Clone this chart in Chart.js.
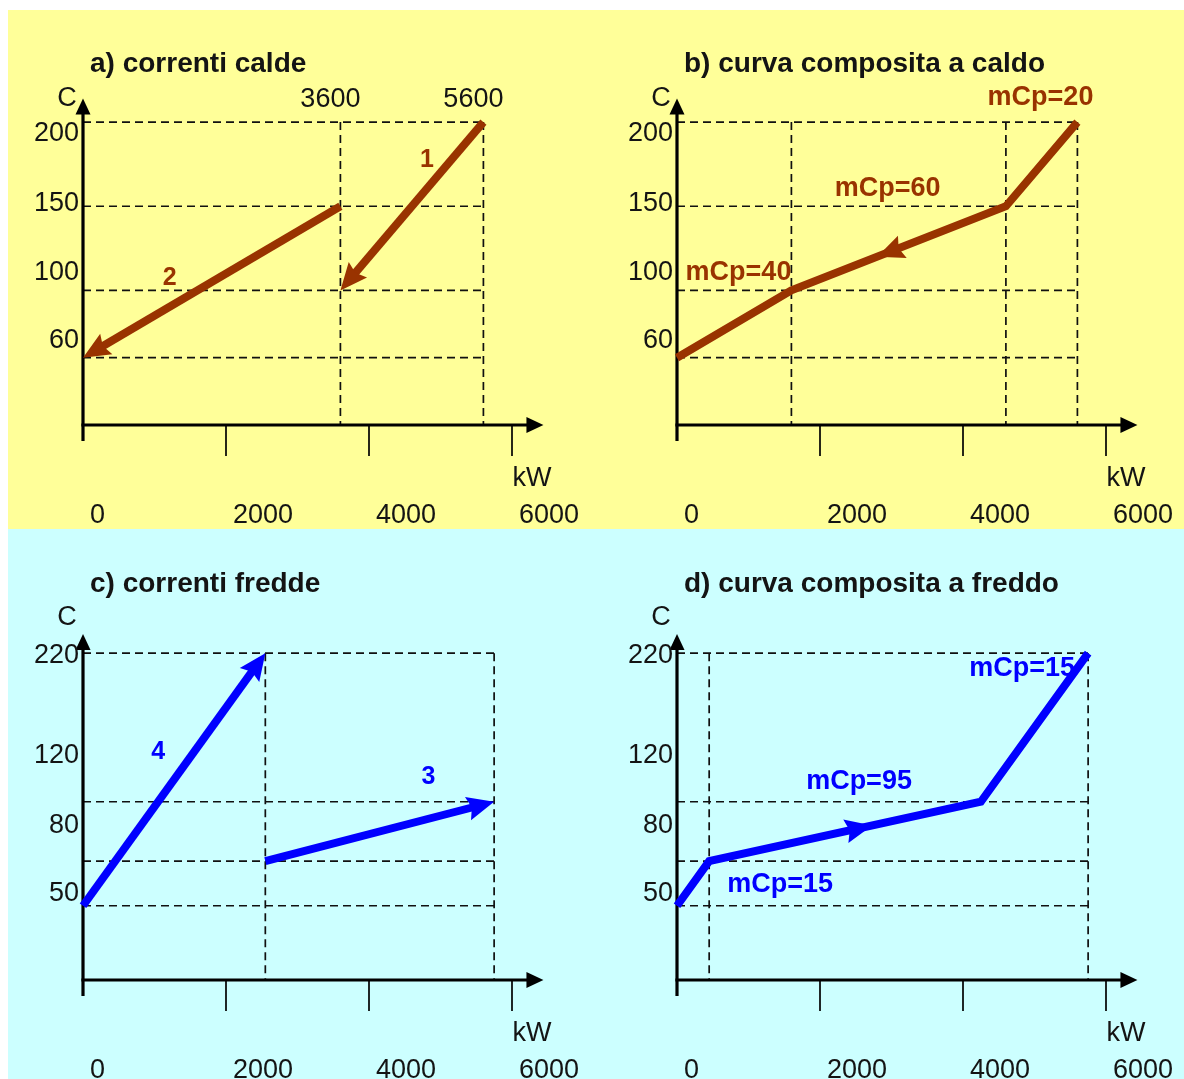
<!DOCTYPE html>
<html lang="it">
<head>
<meta charset="utf-8">
<title>Correnti e curve composite</title>
<script src="https://cdn.jsdelivr.net/npm/chart.js@4.4.1/dist/chart.umd.min.js"></script>
<style>
  html, body { margin:0; padding:0; width:1184px; height:1079px; overflow:hidden; background:#ffffff; }
  .band { position:absolute; left:8px; width:1176px; }
  #bandHot { top:10px; height:519px; background:#ffff99; }
  #bandCold { top:529px; height:550px; background:#ccffff; }
  canvas { position:absolute; }
</style>
</head>
<body>
<div class="band" id="bandHot"></div>
<div class="band" id="bandCold"></div>
<canvas id="pa" width="594" height="529" style="left:0;top:0"></canvas>
<canvas id="pb" width="590" height="529" style="left:594px;top:0"></canvas>
<canvas id="pc" width="594" height="550" style="left:0;top:529px"></canvas>
<canvas id="pd" width="590" height="550" style="left:594px;top:529px"></canvas>
<script>
const FAMILY = "'Liberation Sans', Arial, Helvetica, sans-serif";
const HOT = '#993300';
const COLD = '#0000ff';
const INK = '#141414';

// heat load axis (kW) and temperature axis (C) labels
const kwTicks = [0, 2000, 4000, 6000];
const hotTempTicks = [200, 150, 100, 60];
const coldTempTicks = [220, 120, 80, 50];

// hot streams, listed in flow direction: heat load (kW) and temperature (C)
const stream1Kw = [5600, 3600];
const stream1T = [200, 100];
const stream2Kw = [3600, 0];
const stream2T = [150, 60];

// cold streams
const stream3Kw = [2550, 5750];
const stream3T = [80, 120];
const stream4Kw = [0, 2550];
const stream4T = [50, 220];

// composite curves, in flow direction
const hotCompKw = [5600, 4600, 1600, 0];
const hotCompT = [200, 150, 100, 60];
const coldCompKw = [0, 450, 4250, 5750];
const coldCompT = [50, 80, 120, 220];

// heat capacity flow rate of each composite segment (flow order)
const hotMcp = [20, 60, 40];
const coldMcp = [15, 95, 15];

// heat loads marked by vertical guides
const hotStreamKw = [3600, 5600];
const hotCompBreaksKw = [1600, 4600, 5600];
const coldStreamKw = [2550, 5750];
const coldCompBreaksKw = [450, 5750];

const toPoints = (kw, t) => kw.map((x, i) => ({ x, y: t[i] }));
const font = (size, bold) => (bold ? 'bold ' : '') + size + 'px ' + FAMILY;

const hotPad = { left: 83, top: 63.2, bottom: 104 };
const coldPad = { left: 83, top: 94.5, bottom: 99 };

const panels = [
  {
    canvas: 'pa', color: HOT, title: 'a) correnti calde', titleY: 64,
    pad: Object.assign({ right: 46.25 }, hotPad), yRange: [20, 235], yTip: 214, cOffset: [-16, 0],
    temps: hotTempTicks, tempNudge: [11, -3, -18, -17],
    guideKw: hotStreamKw, guideTopT: 200, guideRightKw: 5600, topKwLabels: hotStreamKw,
    curves: [
      { kw: stream1Kw, t: stream1T, endArrow: true,
        labels: [{ text: '1', seg: 0, f: 0.5, dx: 15, dy: -46, size: 25, align: 'center' }] },
      { kw: stream2Kw, t: stream2T, endArrow: true,
        labels: [{ text: '2', seg: 0, f: 0.5, dx: -42, dy: -4, size: 25, align: 'center' }] }
    ]
  },
  {
    canvas: 'pb', color: HOT, title: 'b) curva composita a caldo', titleY: 64,
    pad: Object.assign({ right: 42.25 }, hotPad), yRange: [20, 235], yTip: 214, cOffset: [-16, 0],
    temps: hotTempTicks, tempNudge: [11, -3, -18, -17],
    guideKw: hotCompBreaksKw, guideTopT: 200, guideRightKw: 5600, topKwLabels: [],
    curves: [
      { kw: hotCompKw, t: hotCompT, midArrow: { seg: 1, f: 0.6 },
        labels: [
          { text: 'mCp=' + hotMcp[0], seg: 0, f: 0, dx: 16, dy: -25, size: 27, align: 'right' },
          { text: 'mCp=' + hotMcp[1], seg: 1, f: 0.5, dx: -11, dy: -60, size: 27, align: 'center' },
          { text: 'mCp=' + hotMcp[2], seg: 2, f: 0, dx: 0, dy: -18, size: 27, align: 'right' }
        ] }
    ]
  },
  {
    canvas: 'pc', color: COLD, title: 'c) correnti fredde', titleY: 55,
    pad: Object.assign({ right: 46.25 }, coldPad), yRange: [0, 240], yTip: 233, cOffset: [-16, -16],
    temps: coldTempTicks, tempNudge: [2, -46, -36, -12],
    guideKw: coldStreamKw, guideTopT: 220, guideRightKw: 5750, topKwLabels: [],
    curves: [
      { kw: stream4Kw, t: stream4T, endArrow: true,
        labels: [{ text: '4', seg: 0, f: 0.5, dx: -16, dy: -27, size: 25, align: 'center' }] },
      { kw: stream3Kw, t: stream3T, endArrow: true,
        labels: [{ text: '3', seg: 0, f: 0.7, dx: 3, dy: -42, size: 25, align: 'center' }] }
    ]
  },
  {
    canvas: 'pd', color: COLD, title: 'd) curva composita a freddo', titleY: 55,
    pad: Object.assign({ right: 42.25 }, coldPad), yRange: [0, 240], yTip: 233, cOffset: [-16, -16],
    temps: coldTempTicks, tempNudge: [2, -46, -36, -12],
    guideKw: coldCompBreaksKw, guideTopT: 220, guideRightKw: 5750, topKwLabels: [],
    curves: [
      { kw: coldCompKw, t: coldCompT, midArrow: { seg: 1, f: 0.6 },
        labels: [
          { text: 'mCp=' + coldMcp[0], seg: 0, f: 1, dx: 18, dy: 23, size: 27, align: 'left' },
          { text: 'mCp=' + coldMcp[1], seg: 1, f: 0.5, dx: 14, dy: -50, size: 27, align: 'center' },
          { text: 'mCp=' + coldMcp[2], seg: 2, f: 1, dx: -13, dy: 15, size: 27, align: 'right' }
        ] }
    ]
  }
];

// arrowhead geometry pointing from `a` to the tip `b`
function head(a, b, len, half, notch) {
  const dx = b.x - a.x, dy = b.y - a.y, L = Math.hypot(dx, dy) || 1;
  const ux = dx / L, uy = dy / L, nx = -uy, ny = ux;
  const bx = b.x - ux * len, by = b.y - uy * len;
  return {
    ux, uy, nx, ny, bx, by, tip: { x: b.x, y: b.y },
    b1: { x: bx + nx * half, y: by + ny * half },
    b2: { x: bx - nx * half, y: by - ny * half },
    nt: { x: b.x - ux * (len - notch), y: b.y - uy * (len - notch) }
  };
}
function fillHead(ctx, g, color) {
  ctx.beginPath();
  ctx.moveTo(g.tip.x, g.tip.y);
  ctx.lineTo(g.b1.x, g.b1.y);
  ctx.lineTo(g.nt.x, g.nt.y);
  ctx.lineTo(g.b2.x, g.b2.y);
  ctx.closePath();
  ctx.fillStyle = color;
  ctx.fill();
}
const HEAD = { len: 27, half: 12, notch: 4 };

function decor(p) {
  const seg = (meta, i, f) => {
    const a = meta.data[i], b = meta.data[i + 1];
    return { x: a.x + (b.x - a.x) * f, y: a.y + (b.y - a.y) * f };
  };
  const line = (ctx, x1, y1, x2, y2) => { ctx.beginPath(); ctx.moveTo(x1, y1); ctx.lineTo(x2, y2); ctx.stroke(); };
  const text = (ctx, s, x, y, f, align, color) => {
    ctx.font = f; ctx.textAlign = align; ctx.textBaseline = 'middle'; ctx.fillStyle = color;
    ctx.fillText(s, x, y);
  };
  return {
    id: 'decor',
    beforeDatasetsDraw(chart) {
      const { ctx, chartArea: ca, scales: { x, y } } = chart;
      // dashed guide lines
      ctx.save();
      ctx.strokeStyle = '#101010';
      ctx.lineWidth = 1.7;
      ctx.setLineDash([8, 5]);
      const xr = x.getPixelForValue(p.guideRightKw);
      p.temps.forEach(t => { const yy = y.getPixelForValue(t); line(ctx, ca.left, yy, xr, yy); });
      const yTop = y.getPixelForValue(p.guideTopT);
      p.guideKw.forEach(k => { const xx = x.getPixelForValue(k); line(ctx, xx, yTop, xx, ca.bottom); });
      ctx.restore();

      // axes with arrowheads and tick marks
      ctx.save();
      ctx.strokeStyle = '#000'; ctx.fillStyle = '#000';
      ctx.lineWidth = 3.2;
      const xTip = x.getPixelForValue(6440);
      const yTip = y.getPixelForValue(p.yTip);
      line(ctx, ca.left - 1.6, ca.bottom, xTip - 14, ca.bottom);
      line(ctx, ca.left, ca.bottom + 16, ca.left, yTip + 13);
      ctx.beginPath();
      ctx.moveTo(xTip, ca.bottom); ctx.lineTo(xTip - 17, ca.bottom - 8); ctx.lineTo(xTip - 17, ca.bottom + 8);
      ctx.closePath(); ctx.fill();
      ctx.beginPath();
      ctx.moveTo(ca.left, yTip); ctx.lineTo(ca.left - 7.5, yTip + 16); ctx.lineTo(ca.left + 7.5, yTip + 16);
      ctx.closePath(); ctx.fill();
      ctx.lineWidth = 1.7;
      kwTicks.filter(v => v > 0).forEach(v => {
        const xx = x.getPixelForValue(v); line(ctx, xx, ca.bottom, xx, ca.bottom + 31);
      });
      ctx.restore();
    },
    beforeDatasetDraw(chart, args) {
      const c = p.curves[args.index];
      const ctx = chart.ctx;
      ctx.save();
      if (!c.endArrow) return;
      const d = args.meta.data, n = d.length;
      const g = head(d[n - 2], d[n - 1], HEAD.len, HEAD.half, HEAD.notch);
      // keep the shaft out of the arrowhead so the tip stays sharp
      const w = 7, s = HEAD.len - HEAD.notch - 1;
      const sx = g.tip.x - g.ux * s, sy = g.tip.y - g.uy * s;
      const ex = g.tip.x + g.ux * 20, ey = g.tip.y + g.uy * 20;
      ctx.beginPath();
      ctx.rect(0, 0, chart.width, chart.height);
      ctx.moveTo(sx + g.nx * w, sy + g.ny * w);
      ctx.lineTo(sx - g.nx * w, sy - g.ny * w);
      ctx.lineTo(ex - g.nx * w, ey - g.ny * w);
      ctx.lineTo(ex + g.nx * w, ey + g.ny * w);
      ctx.closePath();
      ctx.clip('evenodd');
    },
    afterDatasetDraw(chart) { chart.ctx.restore(); },
    afterDatasetsDraw(chart) {
      const { ctx, chartArea: ca, scales: { x, y } } = chart;
      ctx.save();
      // arrowheads and curve labels
      p.curves.forEach((c, i) => {
        const meta = chart.getDatasetMeta(i), d = meta.data, n = d.length;
        if (c.endArrow) fillHead(ctx, head(d[n - 2], d[n - 1], HEAD.len, HEAD.half, HEAD.notch), p.color);
        if (c.midArrow) {
          const a = d[c.midArrow.seg];
          const tip = seg(meta, c.midArrow.seg, c.midArrow.f);
          fillHead(ctx, head(a, tip, HEAD.len, HEAD.half, HEAD.notch), p.color);
        }
        c.labels.forEach(l => {
          const pt = seg(meta, l.seg, l.f);
          text(ctx, l.text, pt.x + l.dx, pt.y + l.dy, font(l.size, true), l.align, p.color);
        });
      });

      // title
      text(ctx, p.title, ca.left + 7, p.titleY, font(28, true), 'left', INK);
      // axis names
      const yTip = y.getPixelForValue(p.yTip);
      text(ctx, 'C', ca.left + p.cOffset[0], yTip + p.cOffset[1], font(27), 'center', INK);
      text(ctx, 'kW', x.getPixelForValue(6000) + 20, ca.bottom + 54, font(27), 'center', INK);
      // heat load labels
      kwTicks.forEach(v => text(ctx, String(v), x.getPixelForValue(v) + 7, ca.bottom + 91, font(27), 'left', INK));
      // temperature labels
      p.temps.forEach((t, i) => text(ctx, String(t), ca.left - 4, y.getPixelForValue(t) + p.tempNudge[i], font(27), 'right', INK));
      // heat loads written above the top guide
      const yTop = y.getPixelForValue(p.guideTopT);
      p.topKwLabels.forEach(v => text(ctx, String(v), x.getPixelForValue(v) - 10, yTop - 23, font(27), 'center', INK));
      ctx.restore();
    }
  };
}

panels.forEach(p => {
  new Chart(document.getElementById(p.canvas), {
    type: 'line',
    data: {
      datasets: p.curves.map(c => ({
        data: toPoints(c.kw, c.t),
        borderColor: p.color,
        borderWidth: 8,
        borderCapStyle: 'butt',
        borderJoinStyle: 'miter',
        pointRadius: 0,
        pointHoverRadius: 0,
        fill: false,
        tension: 0,
        clip: false
      }))
    },
    options: {
      responsive: false,
      animation: false,
      devicePixelRatio: 1,
      events: [],
      layout: { padding: p.pad },
      parsing: true,
      scales: {
        x: { type: 'linear', display: false, min: 0, max: 6500 },
        y: { type: 'linear', display: false, min: p.yRange[0], max: p.yRange[1] }
      },
      plugins: { legend: { display: false }, tooltip: { enabled: false }, title: { display: false } }
    },
    plugins: [decor(p)]
  });
});
</script>
</body>
</html>
